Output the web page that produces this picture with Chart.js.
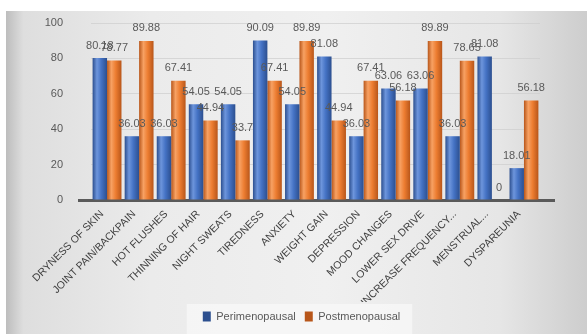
<!DOCTYPE html>
<html>
<head>
<meta charset="utf-8">
<script src="https://cdn.jsdelivr.net/npm/chart.js@4"></script>
<style>
  html, body { margin: 0; padding: 0; background: #ffffff; }
  #wrap { position: relative; width: 587px; height: 334px; overflow: hidden; }
  #panel {
    position: absolute; left: 6px; top: 11px; width: 581px; height: 323px;
    background: linear-gradient(to right, #bdbdbd 0%, #dedede 3%, #ebebeb 25%, #f0f0f0 55%, #e6e6e6 85%, #cdcdcd 100%);
  }
  #chart { position: absolute; left: 0; top: 0; }
</style>
</head>
<body>
<div id="wrap">
  <div id="panel"></div>
  <canvas id="chart" width="587" height="334"></canvas>
</div>
<script>
const symptoms = [
    'DRYNESS OF SKIN', 'JOINT PAIN/BACKPAIN', 'HOT FLUSHES', 'THINNING OF HAIR',
    'NIGHT SWEATS', 'TIREDNESS', 'ANXIETY', 'WEIGHT GAIN', 'DEPRESSION',
    'MOOD CHANGES', 'LOWER SEX DRIVE', 'INCREASE FREQUENCY...', 'MENSTRUAL...', 'DYSPAREUNIA'
];
const perimenopausal = [80.18, 36.03, 36.03, 54.05, 54.05, 90.09, 54.05, 81.08, 36.03, 63.06, 63.06, 36.03, 81.08, 18.01];
const postmenopausal = [78.77, 89.88, 67.41, 44.94, 33.7, 67.41, 89.89, 44.94, 67.41, 56.18, 89.89, 78.65, 0, 56.18];
const yTicks = [0, 20, 40, 60, 80, 100];

const BLUE = '#4472C4';
const ORANGE = '#ED7D31';
const CAT_PCT = 0.9;
const FONT = '"Liberation Sans", Arial, sans-serif';

// cylinder-ish shading, built per bar from the x scale
function barShade(base, dark, light, side) {
    return (context) => {
        const chart = context.chart;
        if (context.type !== 'data' || !chart.chartArea || !chart.scales.x) return base;
        const xs = chart.scales.x;
        const center = xs.getPixelForValue(context.dataIndex);
        const catW = xs.width / symptoms.length;
        const w = catW * CAT_PCT / 2;
        const left = side === 0 ? center - w : center;
        const g = chart.ctx.createLinearGradient(left, 0, left + w, 0);
        g.addColorStop(0, dark);
        g.addColorStop(0.3, light);
        g.addColorStop(0.6, base);
        g.addColorStop(1, dark);
        return g;
    };
}

// value labels above each bar
const valueLabels = {
    id: 'valueLabels',
    afterDatasetsDraw(chart) {
        const ctx = chart.ctx;
        ctx.save();
        ctx.font = '11px ' + FONT;
        ctx.fillStyle = '#595959';
        ctx.textAlign = 'center';
        ctx.textBaseline = 'bottom';
        chart.data.datasets.forEach((ds, di) => {
            chart.getDatasetMeta(di).data.forEach((bar, i) => {
                ctx.fillText(String(ds.data[i]), bar.x, bar.y - 7);
            });
        });
        ctx.restore();
    }
};

// floor line and legend backdrop
const decor = {
    id: 'decor',
    beforeDatasetsDraw(chart) {
        const ctx = chart.ctx;
        const a = chart.chartArea;
        const y0 = chart.scales.y.getPixelForValue(0);
        ctx.save();
        ctx.fillStyle = '#5a5a5a';
        ctx.fillRect(a.left - 13, y0 - 1, a.right - a.left + 28, 3);
        ctx.restore();
    },
    beforeDraw(chart) {
        const lg = chart.legend;
        if (!lg || !lg.legendHitBoxes || !lg.legendHitBoxes.length) return;
        const boxes = lg.legendHitBoxes;
        const x1 = boxes[0].left - 16;
        const x2 = boxes[boxes.length - 1].left + boxes[boxes.length - 1].width + 12;
        const ctx = chart.ctx;
        ctx.save();
        ctx.fillStyle = 'rgba(248,248,248,0.75)';
        ctx.fillRect(x1, lg.top + 2, x2 - x1, lg.bottom - lg.top);
        ctx.restore();
    }
};

new Chart(document.getElementById('chart'), {
    type: 'bar',
    data: {
        labels: symptoms,
        datasets: [
            {
                label: 'Perimenopausal',
                data: perimenopausal,
                backgroundColor: barShade(BLUE, '#2c4f8f', '#6d95dc', 0),
                categoryPercentage: CAT_PCT,
                barPercentage: 1.0
            },
            {
                label: 'Postmenopausal',
                data: postmenopausal,
                backgroundColor: barShade(ORANGE, '#b8561a', '#f7a163', 1),
                categoryPercentage: CAT_PCT,
                barPercentage: 1.0
            }
        ]
    },
    options: {
        responsive: false,
        animation: false,
        devicePixelRatio: 1,
        layout: {
            padding: { left: 16, right: 0, top: 23, bottom: 2 }
        },
        plugins: {
            title: { display: false },
            tooltip: { enabled: false },
            legend: {
                display: true,
                position: 'bottom',
                labels: {
                    boxWidth: 8,
                    boxHeight: 10,
                    padding: 9,
                    color: '#595959',
                    font: { family: FONT, size: 11 }
                }
            }
        },
        scales: {
            x: {
                grid: { display: false },
                border: { display: false },
                ticks: {
                    color: '#404040',
                    minRotation: 45,
                    maxRotation: 45,
                    autoSkip: false,
                    padding: 0,
                    labelOffset: -5,
                    font: { family: FONT, size: 10.5 }
                },
                afterFit(scale) { scale.height = 102; }
            },
            y: {
                min: 0,
                max: 100,
                afterBuildTicks(scale) { scale.ticks = yTicks.map(v => ({ value: v })); },
                // invisible tick marks push the labels left without adding top padding
                grid: { color: 'rgba(205,205,205,0.7)', drawTicks: true, tickLength: 24, tickColor: 'rgba(0,0,0,0)' },
                border: { display: false },
                ticks: {
                    color: '#595959',
                    padding: 4,
                    font: { family: FONT, size: 11 }
                },
                afterFit(scale) { scale.width = 75; }
            },
            // empty right-hand axis, only reserves space so the legend stays centred on the page
            yRight: {
                position: 'right',
                display: true,
                grid: { display: false },
                border: { display: false },
                ticks: { display: false },
                afterFit(scale) { scale.width = 47; }
            }
        }
    },
    plugins: [decor, valueLabels]
});
</script>
</body>
</html>
